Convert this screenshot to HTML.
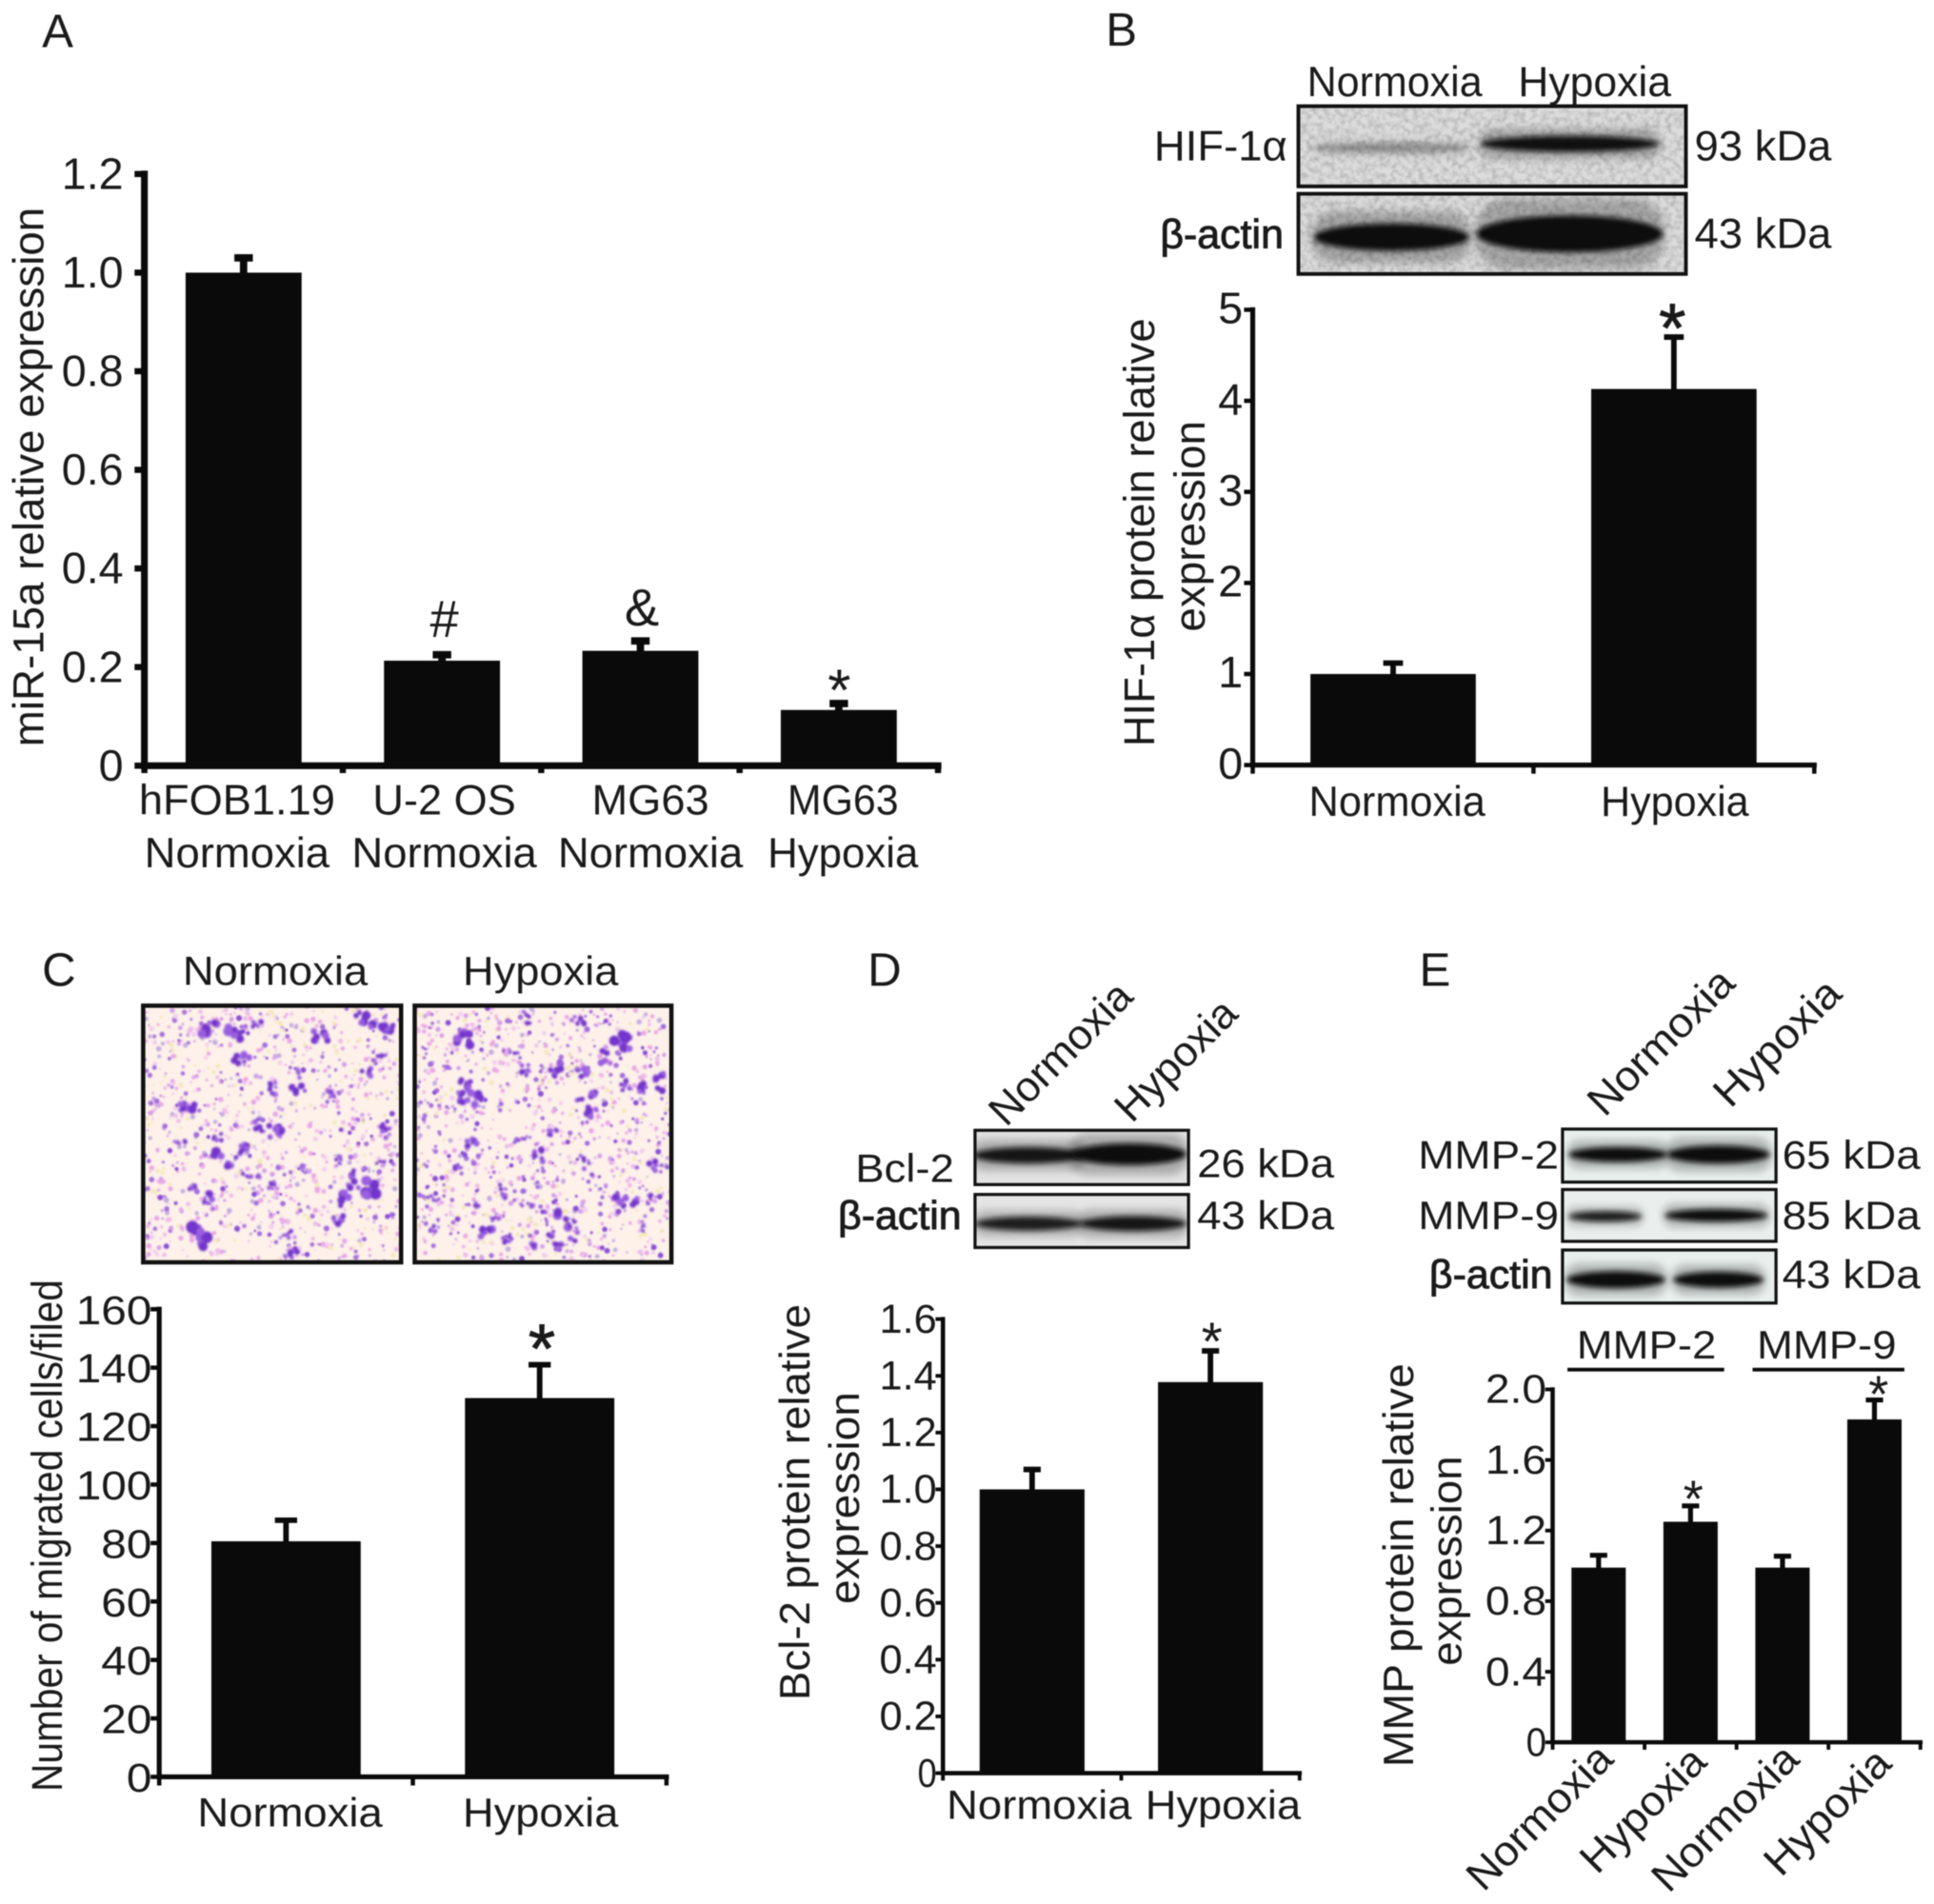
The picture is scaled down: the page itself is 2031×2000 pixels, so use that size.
<!DOCTYPE html>
<html lang="en">
<head>
<meta charset="utf-8">
<title>Hypoxia panels</title>
<style>
html,body{margin:0;padding:0;background:#fff;width:2031px;height:2000px;overflow:hidden}
svg{display:block;filter:blur(.5px)}
text{font-family:"Liberation Sans","DejaVu Sans",sans-serif;fill:#1a1a1a}
</style>
</head>
<body>
<svg id="figure" xmlns="http://www.w3.org/2000/svg" width="2031" height="2000" viewBox="0 0 1567 1543">
<defs>
<filter id="b1" x="-30%" y="-80%" width="160%" height="260%"><feGaussianBlur stdDeviation="2"/></filter>
<filter id="b1h" x="-30%" y="-100%" width="160%" height="300%"><feGaussianBlur stdDeviation="3"/></filter>
<filter id="b2" x="-30%" y="-30%" width="160%" height="160%"><feGaussianBlur stdDeviation="0.8"/></filter>
<filter id="b3" x="-30%" y="-30%" width="160%" height="160%"><feGaussianBlur stdDeviation="0.6"/></filter>
<filter id="grain" x="0" y="0" width="100%" height="100%"><feTurbulence type="fractalNoise" baseFrequency="0.22" numOctaves="2" seed="7"/><feColorMatrix type="matrix" values="0 0 0 0 0.2  0 0 0 0 0.2  0 0 0 0 0.2  1.6 0 0 0 -0.62"/></filter>
</defs>
</svg>
<script>
// Panel A data
const aCategories = ['hFOB1.19 Normoxia', 'U-2 OS Normoxia', 'MG63 Normoxia', 'MG63 Hypoxia'];
const aValues = [1.0, 0.213, 0.233, 0.113];
const aErrors = [0.03, 0.012, 0.02, 0.013];
const aTicks = [0, 0.2, 0.4, 0.6, 0.8, 1.0, 1.2];
const aTickLabels = ['0', '0.2', '0.4', '0.6', '0.8', '1.0', '1.2'];
// Panel B data
const bCategories = ['Normoxia', 'Hypoxia'];
const bValues = [1.0, 4.13];
const bErrors = [0.12, 0.57];
const bTicks = [0, 1, 2, 3, 4, 5];
const bTickLabels = ['0', '1', '2', '3', '4', '5'];
// Panel C data
const cCategories = ['Normoxia', 'Hypoxia'];
const cValues = [80.6, 129.6];
const cErrors = [7.2, 11.4];
const cTicks = [0, 20, 40, 60, 80, 100, 120, 140, 160];
const cTickLabels = ['0', '20', '40', '60', '80', '100', '120', '140', '160'];
// Panel D data
const dCategories = ['Normoxia', 'Hypoxia'];
const dValues = [1.0, 1.378];
const dErrors = [0.07, 0.11];
const dTicks = [0, 0.2, 0.4, 0.6, 0.8, 1.0, 1.2, 1.4, 1.6];
const dTickLabels = ['0', '0.2', '0.4', '0.6', '0.8', '1.0', '1.2', '1.4', '1.6'];
// Panel E data
const eCategories = ['MMP-2 Normoxia', 'MMP-2 Hypoxia', 'MMP-9 Normoxia', 'MMP-9 Hypoxia'];
const eValues = [0.99, 1.25, 0.99, 1.83];
const eErrors = [0.07, 0.09, 0.065, 0.11];
const eTicks = [0, 0.4, 0.8, 1.2, 1.6, 2.0];
const eTickLabels = ['0', '0.4', '0.8', '1.2', '1.6', '2.0'];

const NS = 'http://www.w3.org/2000/svg';
const fig = document.getElementById('figure');
const INK = '#0a0a0a';

function mk(tag, attrs, name, parent) {
  const el = document.createElementNS(NS, tag);
  for (const k in attrs) el.setAttribute(k, attrs[k]);
  
  
  (parent || fig).appendChild(el);
  return el;
}
function T(str, x, y, o) {
  o = o || {};
  const a = { x: 0, y: 0, 'font-size': o.s || 36, 'text-anchor': o.a || 'start',
    transform: 'translate(' + x + ' ' + y + ') rotate(' + (o.r || 0) + ')' };
  if (o.len) { a.textLength = o.len; a.lengthAdjust = 'spacingAndGlyphs'; }
  if (o.bold) { a.stroke = '#1a1a1a'; a['stroke-width'] = 0.7; }
  const el = mk('text', a, o.name || 'label', o.parent);
  el.textContent = str;
  return el;
}
function line(x1, y1, x2, y2, w, name, parent) {
  return mk('line', { x1: x1, y1: y1, x2: x2, y2: y2, stroke: INK, 'stroke-width': w }, name, parent);
}

function drawChart(c) {
  const g = mk('g', {}, c.name);
  const maxV = c.ticks[c.ticks.length - 1];
  const yScale = v => c.y0 - v / maxV * (c.y0 - c.yTop);
  const step = (c.x1 - c.x0) / c.values.length;
  const xScale = i => c.x0 + step * (i + 0.5);
  const slug = s => s.toLowerCase().replace(/[^a-z0-9]+/g, '-');

  c.values.forEach((v, i) => {
    const cx = xScale(i), top = yScale(v), eTop = yScale(v + c.errors[i]);
    const stem = line(cx, top + 1, cx, eTop, c.stem, 'error-bar-' + slug(c.categories[i]), g);
    stem.setAttribute('data-value', c.errors[i]);
    line(cx - c.cap / 2, eTop, cx + c.cap / 2, eTop, c.stem, 'error-cap-' + slug(c.categories[i]), g);
    const bar = mk('rect', { x: cx - c.barW / 2, y: top, width: c.barW, height: c.y0 - top, fill: INK }, 'bar-' + slug(c.categories[i]), g);
    bar.setAttribute('data-value', v);
  });

  line(c.x0, c.yTop - c.axisW / 2, c.x0, c.y0 + c.axisW / 2, c.axisW, 'y-axis-line', g);
  line(c.x0 - c.axisW / 2, c.y0, c.x1 + c.axisW / 2, c.y0, c.axisW, 'x-axis-line', g);
  c.ticks.forEach((t, i) => {
    const y = yScale(t);
    line(c.x0 - c.tick, y, c.x0, y, c.tickW, 'y-tick', g);
    T(c.tickLabels[i], c.x0 - c.labelGap, y + c.labelDy, { s: c.fs, a: 'end', name: 'y-tick-label', parent: g, len: c.tickCharW ? c.tickCharW * c.tickLabels[i].length : 0 });
  });
  for (let i = 0; i <= c.values.length; i++) {
    const x = c.x0 + step * i;
    line(x, c.y0, x, c.y0 + c.xTick, c.tickW, 'x-tick', g);
  }
}

/* ---------- Panel letters ---------- */
[['A', 34, 38], ['B', 896, 37], ['C', 34, 799], ['D', 703, 799], ['E', 1150, 799]].forEach(p => {
  T(p[0], p[1], p[2], { s: 38, name: 'panel-letter-' + p[0].toLowerCase() });
});

/* ---------- Panel A ---------- */
drawChart({ name: 'chart-a', categories: aCategories, values: aValues, errors: aErrors, ticks: aTicks, tickLabels: aTickLabels,
  x0: 117, x1: 760, y0: 620.5, yTop: 141, barW: 94, cap: 15, stem: 6, axisW: 5.5, tick: 8, tickW: 5, xTick: 6, fs: 36, labelGap: 17, labelDy: 12 });
T('miR-15a relative expression', 35, 605, { s: 35, r: -90, len: 437, name: 'y-axis-title' });
[['hFOB1.19', 'Normoxia', 192, 159], ['U-2 OS', 'Normoxia', 360, 116], ['MG63', 'Normoxia', 527, 95], ['MG63', 'Hypoxia', 683, 90]].forEach((l, i) => {
  T(l[0], l[2], 660, { s: 34, a: 'middle', len: l[3], name: 'x-tick-label-line1' });
  T(l[1], l[2], 703, { s: 34, a: 'middle', len: l[1] === 'Normoxia' ? 150 : 122, name: 'x-tick-label-line2' });
});
T('#', 360, 516, { s: 42, a: 'middle', name: 'significance-hash' });
T('&', 520, 507, { s: 42, a: 'middle', name: 'significance-ampersand' });
T('*', 680, 576, { s: 48, a: 'middle', name: 'significance-star' });

/* ---------- Panel B ---------- */
drawChart({ name: 'chart-b', categories: bCategories, values: bValues, errors: bErrors, ticks: bTicks, tickLabels: bTickLabels,
  x0: 1015, x1: 1470, y0: 620, yTop: 251, barW: 134, cap: 16, stem: 4.5, axisW: 4, tick: 7, tickW: 3.5, xTick: 7, fs: 36, labelGap: 8, labelDy: 11 });
T('HIF-1α protein relative', 935, 605, { s: 35, r: -90, len: 347, name: 'y-axis-title-line1' });
T('expression', 976, 512, { s: 35, r: -90, len: 171, name: 'y-axis-title-line2' });
T('Normoxia', 1132, 661, { s: 34, a: 'middle', len: 143, name: 'x-tick-label' });
T('Hypoxia', 1357, 661, { s: 34, a: 'middle', len: 120, name: 'x-tick-label' });
T('*', 1355, 285, { s: 56, a: 'middle', bold: true, name: 'significance-star' });
T('Normoxia', 1130, 78, { s: 34, a: 'middle', len: 142, name: 'blot-lane-label' });
T('Hypoxia', 1292, 78, { s: 34, a: 'middle', len: 124, name: 'blot-lane-label' });
T('HIF-1α', 1043, 130, { s: 34, a: 'end', len: 108, name: 'blot-row-label' });
T('β-actin', 1040, 201, { s: 33, a: 'end', len: 100, bold: true, name: 'blot-row-label' });
T('93 kDa', 1373, 130, { s: 34, len: 111, name: 'blot-size-label' });
T('43 kDa', 1373, 201, { s: 34, len: 111, name: 'blot-size-label' });

/* ---------- Panel C ---------- */
drawChart({ name: 'chart-c', categories: cCategories, values: cValues, errors: cErrors, ticks: cTicks, tickLabels: cTickLabels,
  x0: 129, x1: 540, y0: 1440, yTop: 1061, barW: 121, cap: 18, stem: 4.5, axisW: 4, tick: 7, tickW: 3.5, xTick: 7, fs: 33, labelGap: 6, labelDy: 12, tickCharW: 20.5 });
T('Number of migrated cells/filed', 50, 1452, { s: 35, r: -90, len: 415, name: 'y-axis-title' });
T('Normoxia', 235, 1480, { s: 33, a: 'middle', len: 150, name: 'x-tick-label' });
T('Hypoxia', 438, 1480, { s: 33, a: 'middle', len: 126, name: 'x-tick-label' });
T('*', 439, 1112, { s: 56, a: 'middle', bold: true, name: 'significance-star' });
T('Normoxia', 223, 798, { s: 33, a: 'middle', len: 150, name: 'image-label' });
T('Hypoxia', 438, 798, { s: 33, a: 'middle', len: 126, name: 'image-label' });

/* ---------- Panel D ---------- */
drawChart({ name: 'chart-d', categories: dCategories, values: dValues, errors: dErrors, ticks: dTicks, tickLabels: dTickLabels,
  x0: 764, x1: 1053, y0: 1437, yTop: 1069, barW: 85, cap: 14, stem: 4.5, axisW: 3.5, tick: 6, tickW: 3, xTick: 6, fs: 33, labelGap: 5, labelDy: 11, tickCharW: 15.5 });
T('Bcl-2 protein relative', 656, 1378, { s: 34, r: -90, len: 321, name: 'y-axis-title-line1' });
T('expression', 696, 1300, { s: 34, r: -90, len: 172, name: 'y-axis-title-line2' });
T('Normoxia', 842, 1474, { s: 33, a: 'middle', len: 150, name: 'x-tick-label' });
T('Hypoxia', 991, 1474, { s: 33, a: 'middle', len: 126, name: 'x-tick-label' });
T('*', 982, 1102, { s: 44, a: 'middle', name: 'significance-star' });
T('Normoxia', 815, 914, { s: 34, r: -45, len: 148, name: 'blot-lane-label' });
T('Hypoxia', 917, 911, { s: 34, r: -45, len: 124, name: 'blot-lane-label' });
T('Bcl-2', 773, 958, { s: 32, a: 'end', len: 80, name: 'blot-row-label' });
T('β-actin', 779, 996, { s: 32, a: 'end', len: 100, bold: true, name: 'blot-row-label' });
T('26 kDa', 970, 954, { s: 32, len: 111, name: 'blot-size-label' });
T('43 kDa', 970, 996, { s: 32, len: 111, name: 'blot-size-label' });

/* ---------- Panel E ---------- */
drawChart({ name: 'chart-e', categories: eCategories, values: eValues, errors: eErrors, ticks: eTicks, tickLabels: eTickLabels,
  x0: 1258, x1: 1556, y0: 1412, yTop: 1126, barW: 44, cap: 14, stem: 4, axisW: 3.5, tick: 6, tickW: 3, xTick: 6, fs: 33, labelGap: 5, labelDy: 11, tickCharW: 16.5 });
T('MMP protein relative', 1145, 1432, { s: 34, r: -90, len: 327, name: 'y-axis-title-line1' });
T('expression', 1184, 1350, { s: 34, r: -90, len: 170, name: 'y-axis-title-line2' });
[['Normoxia', 1202, 1534, 151], ['Hypoxia', 1294, 1520, 128], ['Normoxia', 1352, 1535, 152], ['Hypoxia', 1443, 1522, 129]].forEach(l => {
  T(l[0], l[1], l[2], { s: 34, r: -45, len: l[3], name: 'x-tick-label' });
});
T('*', 1372, 1229, { s: 42, a: 'middle', name: 'significance-star' });
T('*', 1522, 1144, { s: 42, a: 'middle', name: 'significance-star' });
T('MMP-2', 1334, 1101, { s: 32, a: 'middle', len: 113, name: 'group-label' });
T('MMP-9', 1480, 1101, { s: 32, a: 'middle', len: 113, name: 'group-label' });
line(1270, 1110, 1397, 1110, 3, 'group-line-mmp-2');
line(1420, 1110, 1543, 1110, 3, 'group-line-mmp-9');
T('Normoxia', 1300, 906, { s: 34, r: -45, len: 152, name: 'blot-lane-label' });
T('Hypoxia', 1402, 899, { s: 34, r: -45, len: 130, name: 'blot-lane-label' });
[['MMP-2', 947, 1263, 114], ['MMP-9', 996, 1263, 114], ['β-actin', 1044, 1258, 100]].forEach((l, i) => {
  T(l[0], l[2], l[1], { s: 32, a: 'end', len: l[3], bold: i === 2, name: 'blot-row-label' });
});
[['65 kDa', 947], ['85 kDa', 996], ['43 kDa', 1044]].forEach(l => {
  T(l[0], 1444, l[1], { s: 32, len: 112, name: 'blot-size-label' });
});

/* ---------- Western blot images ---------- */
let clipId = 0;
function blot(name, x, y, w, h, bg, bands, sw, grain) {
  const g = mk('g', {}, name);
  const cid = 'clip' + (clipId++);
  const cp = document.createElementNS(NS, 'clipPath');
  cp.setAttribute('id', cid);
  const cr = document.createElementNS(NS, 'rect');
  cr.setAttribute('x', x); cr.setAttribute('y', y); cr.setAttribute('width', w); cr.setAttribute('height', h);
  cp.appendChild(cr);
  fig.appendChild(cp);
  const inner = mk('g', { 'clip-path': 'url(#' + cid + ')' }, name + '-texture', g);
  mk('rect', { x: x, y: y, width: w, height: h, fill: bg }, name + '-background', inner);
  if (grain) mk('rect', { x: x, y: y, width: w, height: h, filter: 'url(#grain)', opacity: grain }, name + '-grain', inner);
  bands.forEach(b => {
    const bw = b[2] * w * 2, bh = b[3] * h * 2, bx = x + b[0] * w - bw / 2, by = y + b[1] * h - bh / 2;
    mk('rect', { x: bx - 2, y: by - bh * 0.45, width: bw + 4, height: bh * 1.9, rx: bh * 0.9, fill: '#0a0a0a', opacity: b[4] * 0.25, filter: 'url(#b1h)' }, 'blot-band-halo', inner);
    mk('ellipse', { cx: bx + bw / 2, cy: by + bh / 2, rx: bw / 2, ry: bh / 2, fill: '#0a0a0a', opacity: b[4], filter: 'url(#b1)' }, 'blot-band', inner);
  });
  mk('rect', { x: x, y: y, width: w, height: h, fill: 'none', stroke: '#111', 'stroke-width': sw || 3 }, name + '-frame', g);
}
blot('blot-hif1a', 1052, 86, 314, 65, '#dcdcdc', [[0.24, 0.52, 0.2, 0.06, 0.3], [0.7, 0.47, 0.23, 0.1, 0.98]], 3, 0.55);
blot('blot-actin-b', 1052, 157, 314, 65, '#dadada', [[0.24, 0.54, 0.2, 0.17, 1], [0.7, 0.5, 0.24, 0.23, 1]], 3, 0.55);
blot('blot-bcl2', 790, 916, 173, 44, '#e2e2e2', [[0.25, 0.46, 0.26, 0.15, 0.95], [0.72, 0.44, 0.27, 0.2, 1]], 2.5);
blot('blot-actin-d', 790, 968, 173, 43, '#e4e4e4', [[0.25, 0.55, 0.25, 0.13, 0.9], [0.74, 0.55, 0.25, 0.14, 0.95]], 2.5);
blot('blot-mmp2', 1266, 915, 173, 43, '#e8efed', [[0.26, 0.48, 0.23, 0.14, 1], [0.73, 0.48, 0.24, 0.17, 1]], 2.5);
blot('blot-mmp9', 1266, 964, 173, 42, '#eaefed', [[0.2, 0.52, 0.17, 0.1, 0.9], [0.72, 0.5, 0.24, 0.12, 1]], 2.5);
blot('blot-actin-e', 1266, 1013, 173, 43, '#e8efed', [[0.25, 0.56, 0.23, 0.16, 1], [0.73, 0.56, 0.21, 0.15, 1]], 2.5);

/* ---------- Migration micrographs ---------- */
const leftBlobs = [[215,120,22,22,0],[285,140,20,24,0],[335,115,30,12,-20],[310,210,28,15,-30],[530,150,22,20,0],[650,100,25,20,0],[715,125,18,20,0],[700,210,30,10,-30],[655,255,14,14,0],[465,285,16,40,10],[395,310,10,20,0],[555,325,12,12,0],[150,365,35,20,0],[400,440,18,25,0],[355,420,12,20,0],[230,460,22,10,0],[130,480,20,10,0],[250,535,30,22,40],[305,505,15,22,0],[335,585,25,12,0],[395,610,15,10,0],[165,612,18,10,0],[215,640,14,22,0],[578,530,8,28,0],[620,590,14,28,0],[680,620,30,25,0],[595,650,15,25,0],[710,540,25,8,0],[710,440,12,22,0],[580,720,30,15,0],[435,765,35,10,-20],[190,770,25,30,0],[445,820,20,15,0]];
const rightBlobs = [[935,155,20,20,0],[1115,85,10,20,0],[1260,95,18,12,0],[1385,165,35,25,0],[1340,210,14,20,0],[1270,260,22,14,0],[1200,250,16,20,0],[1110,250,12,18,0],[1080,195,30,6,0],[945,295,16,16,0],[940,335,16,16,0],[985,345,25,22,0],[1280,335,28,15,0],[1300,385,14,20,0],[1395,300,14,14,0],[1490,290,16,30,0],[1440,310,14,16,0],[1190,445,12,12,0],[960,480,14,14,0],[1095,465,25,6,-20],[1150,515,12,22,0],[1285,550,10,35,-20],[1485,550,28,14,0],[1400,660,30,18,0],[1465,655,8,25,0],[1445,730,6,25,0],[1215,720,20,30,0],[1250,750,12,35,0],[1000,760,20,18,0],[1160,785,32,14,-20],[1050,630,10,25,0],[1060,775,10,25,0],[985,670,16,10,0],[1120,670,25,8,0],[860,650,25,8,0],[920,550,15,8,0],[855,745,12,10,0],[1030,715,14,6,0],[1205,800,12,12,0]];
function micrograph(name, x, y, w, h, blobs, zx, zy, zw, zh, seed, extra) {
  const g = mk('g', {}, name);
  const cid = 'clip' + (clipId++);
  const cp = document.createElementNS(NS, 'clipPath');
  cp.setAttribute('id', cid);
  const cr = document.createElementNS(NS, 'rect');
  cr.setAttribute('x', x); cr.setAttribute('y', y); cr.setAttribute('width', w); cr.setAttribute('height', h);
  cp.appendChild(cr);
  fig.appendChild(cp);
  const inner = mk('g', { 'clip-path': 'url(#' + cid + ')' }, name + '-texture', g);
  mk('rect', { x: x, y: y, width: w, height: h, fill: '#fdf1ea' }, name + '-background', inner);
  let s = seed;
  const rnd = () => (s = (s * 16807) % 2147483647) / 2147483647;
  const speckle = mk('g', { filter: 'url(#b3)' }, name + '-speckle', inner);
  const palette = ['#eebde8', '#e9a8e6', '#d3a0ea', '#f4e9bd', '#c4aee0', '#a973dc', '#f2cfee', '#e9a8e6'];
  for (let i = 0; i < 1000; i++) {
    mk('circle', { cx: x + rnd() * w, cy: y + rnd() * h, r: 0.7 + rnd() * 1.5, fill: palette[Math.floor(rnd() * palette.length)] }, 'cell-speck', speckle);
  }
  for (let i = 0; i < extra; i++) {
    mk('circle', { cx: x + rnd() * w, cy: y + rnd() * h, r: 1 + rnd() * 1.4, fill: rnd() > 0.5 ? '#8a50d6' : '#a36ee0' }, 'cell-dot', speckle);
  }
  const cells = mk('g', { filter: 'url(#b2)' }, name + '-cells', inner);
  const k = w / zw, m = h / zh;
  blobs.forEach(b => {
    const cx = x + (b[0] - zx) * k, cy = y + (b[1] - zy) * m;
    const rx = b[2] * k * 1.05, ry = b[3] * m * 1.05, ang = b[4] * Math.PI / 180;
    for (let j = 0; j < 7; j++) {
      const dx = (rnd() * 2 - 1) * rx, dy = (rnd() * 2 - 1) * ry;
      const px = cx + dx * Math.cos(ang) - dy * Math.sin(ang), py = cy + dx * Math.sin(ang) + dy * Math.cos(ang);
      const r = Math.max(1.2, Math.min(rx, ry) * (0.35 + rnd() * 0.35));
      mk('circle', { cx: px, cy: py, r: r, fill: j % 3 === 0 ? '#9a5fe0' : '#7336cc' }, 'stained-cell', cells);
    }
  });
  mk('rect', { x: x, y: y, width: w, height: h, fill: 'none', stroke: '#111', 'stroke-width': 3.5 }, name + '-frame', g);
}
micrograph('micrograph-normoxia', 116, 815, 209, 208, leftBlobs, 30, 50, 725, 800, 12345, 90);
micrograph('micrograph-hypoxia', 336, 815, 208, 208, rightBlobs, 800, 50, 725, 800, 67891, 140);
</script>
</body>
</html>
